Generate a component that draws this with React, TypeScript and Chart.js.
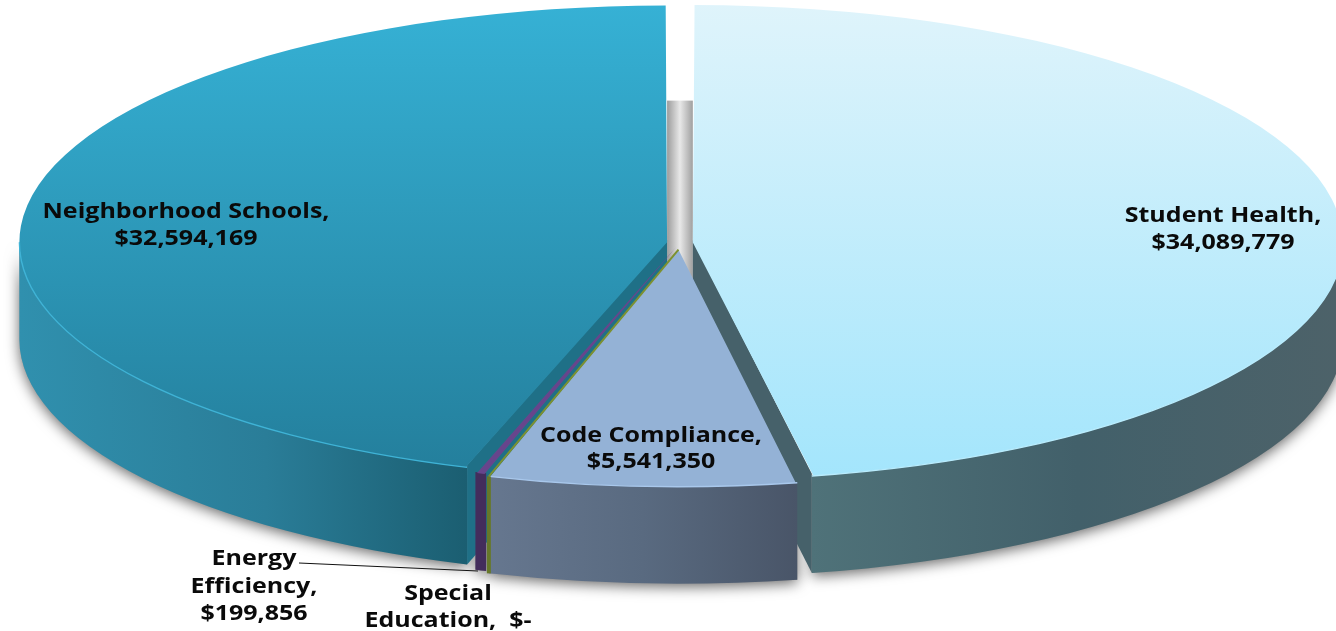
import React, { useEffect, useRef } from "react";
import { Chart, registerables } from "chart.js";

Chart.register(...registerables);

// Data (clockwise from 12 o'clock)
const categories = ["Student Health", "Code Compliance", "Special Education", "Energy Efficiency", "Neighborhood Schools"];
const amounts = [34089779, 5541350, 0, 199856, 32594169];

// Styles
const explode = [25, 34, 0, 21, 23.5];
const topStops = [
  ["#e0f4fb", "#a2e5fc"],
  ["#94b2d6", "#94b2d6"],
  ["#7d9130", "#7d9130"],
  ["#67458c", "#67458c"],
  ["#36b2d6", "#237d9a"],
];
const wallStops = [
  ["#4f7279", "#42606a", "#4d6269"],
  ["#66778f", "#596a80", "#495568"],
  ["#66782a", "#66782a", "#66782a"],
  ["#432d5c", "#432d5c", "#432d5c"],
  ["#3090ae", "#2a7d98", "#1b5e71"],
];
const cutColors = ["#46616a", null, null, null, "#1f7087"];
const rimColors = ["#b9ecfd", "#a9c8ec", null, null, "#3fb3d6"];

// Layout
const W = 1336, H = 631;
const CX = 679.5, CY = 243, RX = 639, RY = 233.5, DEPTH = 97;
const FONT = '700 20.5px "Open Sans"';
const TEXT_STRETCH = 1.22;
const labelSpots = [
  { x: 1223, y: [216, 243], lines: (n: string, v: string) => [n + ",", v] },
  { x: 651, y: [436, 462], lines: (n: string, v: string) => [n + ",", v] },
  { x: 448, y: [594, 621], lines: (n: string, v: string) => { const p = n.split(" "); return [p[0], p[1] + ",  " + v]; } },
  { x: 254, y: [559, 587, 614], lines: (n: string, v: string) => { const p = n.split(" "); return [p[0], p[1] + ",", v]; } },
  { x: 186, y: [212, 239], lines: (n: string, v: string) => [n + ",", v] },
];
const money = (v: number) => (v === 0 ? "$-" : "$" + v.toLocaleString("en-US"));

function geom(arc: any) {
  const off = (arc.options.offset || 0) / 4;
  const half = (arc.startAngle + arc.endAngle) / 2;
  const circ = arc.endAngle - arc.startAngle;
  const fix = 1 - Math.sin(Math.min(Math.PI, circ));
  return {
    cx: arc.x + Math.cos(half) * off,
    cy: arc.y + Math.sin(half) * off,
    r: arc.outerRadius + off * fix,
    a: arc.startAngle,
    b: arc.endAngle,
  };
}

function view(chart: any, ctx: CanvasRenderingContext2D) {
  const a = chart.getDatasetMeta(0).data[0];
  const R = a.outerRadius;
  ctx.translate(CX, CY);
  ctx.scale(RX / R, RY / R);
  ctx.translate(-a.x, -a.y);
  return R / RY; // chart units per screen px, vertically
}

const pie3d = {
  id: "pie3d",
  beforeDatasetsDraw(chart: any) {
    const ctx: CanvasRenderingContext2D = chart.ctx;
    const arcs = chart.getDatasetMeta(0).data;
    ctx.save();
    const unit = view(chart, ctx);
    const D = DEPTH * unit;
    const gs = arcs.map(geom);

    const wall = (g: any) => {
      const a0 = Math.max(g.a, 0), a1 = Math.min(g.b, Math.PI);
      ctx.beginPath();
      ctx.arc(g.cx, g.cy - 1, g.r, a0, a1);
      ctx.arc(g.cx, g.cy + D, g.r, a1, a0, true);
      ctx.closePath();
      return [g.cx + g.r * Math.cos(a1), g.cx + g.r * Math.cos(a0)];
    };

    // soft floor shadow
    ctx.save();
    ctx.shadowColor = "rgba(0,0,0,0.6)";
    ctx.shadowBlur = 14;
    ctx.shadowOffsetY = 3;
    gs.forEach((g: any, i: number) => {
      if (amounts[i] === 0) return;
      wall(g);
      ctx.fillStyle = "#999";
      ctx.fill();
    });
    ctx.restore();

    // back gap between the two large slices
    const left = gs[4], right = gs[0];
    const gap = ctx.createLinearGradient(left.cx, 0, right.cx, 0);
    gap.addColorStop(0, "#9c9c9c");
    gap.addColorStop(0.5, "#e8e8e8");
    gap.addColorStop(1, "#a0a0a0");
    ctx.fillStyle = gap;
    ctx.fillRect(left.cx, left.cy - left.r + D - 2 * unit, right.cx - left.cx, left.r);

    // cut faces (tucked slightly under the top faces so no seam shows)
    [0, 4].forEach((i) => {
      const g = gs[i];
      const ang = i === 0 ? g.b : g.a;
      const ex = g.cx + g.r * Math.cos(ang), ey = g.cy + g.r * Math.sin(ang);
      ctx.beginPath();
      ctx.moveTo(g.cx, g.cy - 3);
      ctx.lineTo(ex, ey - 3);
      ctx.lineTo(ex, ey + D);
      ctx.lineTo(g.cx, g.cy + D);
      ctx.closePath();
      ctx.fillStyle = cutColors[i] as string;
      ctx.fill();
    });

    // outer walls
    gs.forEach((g: any, i: number) => {
      if (amounts[i] === 0) return;
      const [x0, x1] = wall(g);
      const grad = ctx.createLinearGradient(x0, 0, x1, 0);
      const st = wallStops[i];
      grad.addColorStop(0, st[0]);
      grad.addColorStop(i === 4 ? 0.55 : 0.5, st[1]);
      grad.addColorStop(1, st[2]);
      ctx.fillStyle = grad;
      ctx.fill();
    });
    // keep the view transform for the library's own arcs; restored in afterDatasetsDraw
  },
  afterDatasetsDraw(chart: any) {
    const ctx: CanvasRenderingContext2D = chart.ctx;
    const arcs = chart.getDatasetMeta(0).data;
    const gs = arcs.map(geom);
    const unit = chart.getDatasetMeta(0).data[0].outerRadius / RY;
    const D = DEPTH * unit;

    // thin light front rims
    gs.forEach((g: any, i: number) => {
      const col = rimColors[i];
      if (!col) return;
      ctx.save();
      ctx.beginPath();
      ctx.arc(g.cx, g.cy, g.r, Math.max(g.a, 0), Math.min(g.b, Math.PI));
      ctx.setTransform(1, 0, 0, 1, 0, 0);
      ctx.strokeStyle = col;
      ctx.lineWidth = 1.4;
      ctx.stroke();
      ctx.restore();
    });

    // zero-value slice: a hairline between its neighbours
    arcs.forEach((arc: any, i: number) => {
      if (amounts[i] !== 0) return;
      const g = gs[i - 1];
      const ang = arc.startAngle;
      const ex = g.cx + g.r * Math.cos(ang), ey = g.cy + g.r * Math.sin(ang);
      ctx.save();
      ctx.beginPath();
      ctx.moveTo(g.cx, g.cy);
      ctx.lineTo(ex, ey);
      const m = ctx.getTransform();
      ctx.setTransform(1, 0, 0, 1, 0, 0);
      ctx.strokeStyle = topStops[i][0];
      ctx.lineWidth = 2;
      ctx.stroke();
      ctx.setTransform(m);
      ctx.beginPath();
      ctx.moveTo(ex, ey);
      ctx.lineTo(ex, ey + D);
      ctx.setTransform(1, 0, 0, 1, 0, 0);
      ctx.strokeStyle = wallStops[i][0];
      ctx.lineWidth = 4;
      ctx.stroke();
      ctx.restore();
    });

    ctx.restore(); // leave the pie view

    // leader line for the Energy Efficiency label
    ctx.save();
    ctx.strokeStyle = "#111";
    ctx.lineWidth = 1;
    ctx.beginPath();
    ctx.moveTo(299, 563);
    ctx.lineTo(478, 571);
    ctx.stroke();
    ctx.restore();

    // labels
    ctx.save();
    ctx.font = FONT;
    ctx.fillStyle = "#0a0a0a";
    ctx.textAlign = "center";
    ctx.textBaseline = "middle";
    categories.forEach((name, i) => {
      const spot = labelSpots[i];
      spot.lines(name, money(amounts[i])).forEach((line: string, k: number) => {
        ctx.save();
        ctx.translate(spot.x, spot.y[k]);
        ctx.scale(TEXT_STRETCH, 1);
        ctx.fillText(line, 0, 0);
        ctx.restore();
      });
    });
    ctx.restore();
  },
};

export default function App() {
  const ref = useRef<HTMLCanvasElement>(null);
  useEffect(() => {
    document.body.style.margin = "0";
    document.body.style.background = "#fff";
    const chart = new Chart(ref.current as HTMLCanvasElement, {
      type: "pie",
      data: {
        labels: categories,
        datasets: [
          {
            data: amounts,
            offset: explode,
            borderWidth: 0,
            clip: false,
            backgroundColor: (c: any) => {
              const a = c.chart.chartArea;
              const s = topStops[c.dataIndex];
              if (!a) return s[0];
              const cy = (a.top + a.bottom) / 2;
              const r = (a.bottom - a.top) / 2;
              const g = c.chart.ctx.createLinearGradient(0, cy - r, 0, cy + r);
              g.addColorStop(0, s[0]);
              g.addColorStop(1, s[1]);
              return g;
            },
          } as any,
        ],
      },
      options: {
        responsive: false,
        animation: false,
        events: [],
        plugins: { legend: { display: false }, tooltip: { enabled: false } },
      },
      plugins: [pie3d as any],
    });
    return () => chart.destroy();
  }, []);
  return <canvas ref={ref} width={W} height={H} style={{ display: "block" }} />;
}
